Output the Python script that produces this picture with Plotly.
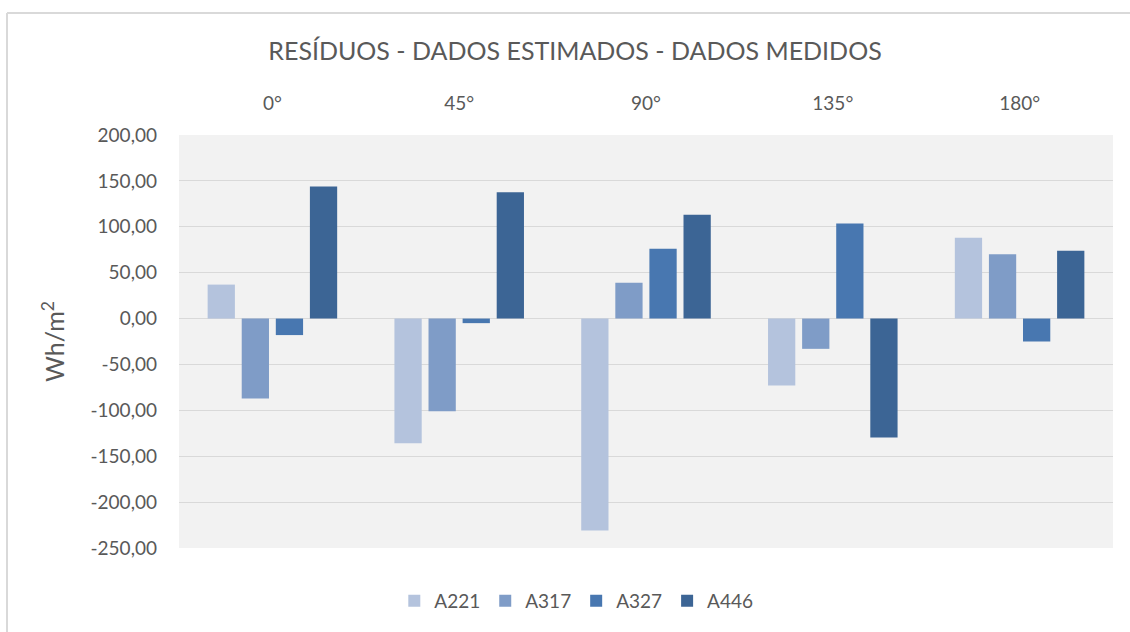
import plotly.graph_objects as go

# data
angles = ["0°", "45°", "90°", "135°", "180°"]
a221 = [37.0, -136.0, -231.0, -73.0, 88.0]
a317 = [-87.0, -101.0, 39.0, -33.0, 70.0]
a327 = [-18.0, -5.0, 76.0, 103.5, -25.0]
a446 = [144.0, 137.5, 113.0, -129.5, 74.0]
series_names = ["A221", "A317", "A327", "A446"]
y_ticks = [200, 150, 100, 50, 0, -50, -100, -150, -200, -250]
y_tick_text = ["200,00", "150,00", "100,00", "50,00", "0,00", "-50,00",
               "-100,00", "-150,00", "-200,00", "-250,00"]

colors = ["#b4c3dd", "#7f9cc7", "#4877b0", "#3c6595"]
font_family = "Lato, 'Open Sans', sans-serif"
text_color = "#595959"

W, H = 1130, 632
L, R, T, B = 179, 17, 135, 84
pw, ph = W - L - R, H - T - B


def px_to_paper_x(px):
    return (px - L) / pw


def px_to_paper_y(py):
    return (H - B - py) / ph


fig = go.Figure()
for name, vals, col in zip(series_names, [a221, a317, a327, a446], colors):
    fig.add_trace(go.Bar(x=angles, y=vals, name=name, marker_color=col,
                         marker_line_width=0))

# outer chart frame (only top and left edges visible)
frame = dict(type="line", xref="paper", yref="paper",
             line=dict(color="#d9d9d9", width=2), layer="below")
fig.add_shape(**frame, x0=px_to_paper_x(7), x1=px_to_paper_x(1135),
              y0=px_to_paper_y(13), y1=px_to_paper_y(13))
fig.add_shape(**frame, x0=px_to_paper_x(7), x1=px_to_paper_x(7),
              y0=px_to_paper_y(13), y1=px_to_paper_y(640))

fig.update_layout(
    width=W, height=H,
    margin=dict(l=L, r=R, t=T, b=B),
    paper_bgcolor="white",
    plot_bgcolor="#f2f2f2",
    font=dict(family=font_family, color=text_color, size=18),
    title=dict(text="RESÍDUOS - DADOS ESTIMADOS - DADOS MEDIDOS",
               x=575 / W, xref="container", xanchor="center",
               y=1 - 51 / H, yref="container", yanchor="middle",
               font=dict(size=25, color=text_color)),
    barmode="group",
    bargap=0.27,
    bargroupgap=0.2,
    showlegend=True,
    legend=dict(orientation="h", x=0.51, xref="container", xanchor="center",
                y=1 - 601 / H, yref="container", yanchor="middle",
                font=dict(size=19, color=text_color), traceorder="normal",
                itemwidth=30),
    xaxis=dict(side="top", showgrid=False, showline=False, ticks="",
               ticklabelstandoff=20, tickfont=dict(size=19, color=text_color)),
    yaxis=dict(range=[-250, 200], tickvals=y_ticks, ticktext=y_tick_text,
               showgrid=True, gridcolor="#d9d9d9", gridwidth=1,
               zeroline=True, zerolinecolor="#d9d9d9", zerolinewidth=1,
               showline=False, ticks="", ticklabelstandoff=21,
               tickfont=dict(size=19, color=text_color),
               title=dict(text="Wh/m<sup>2</sup>", standoff=18,
                          font=dict(size=25, color=text_color))),
)

fig.write_html("out.html", config={"displayModeBar": False},
               post_script="document.body.style.margin='0';")
